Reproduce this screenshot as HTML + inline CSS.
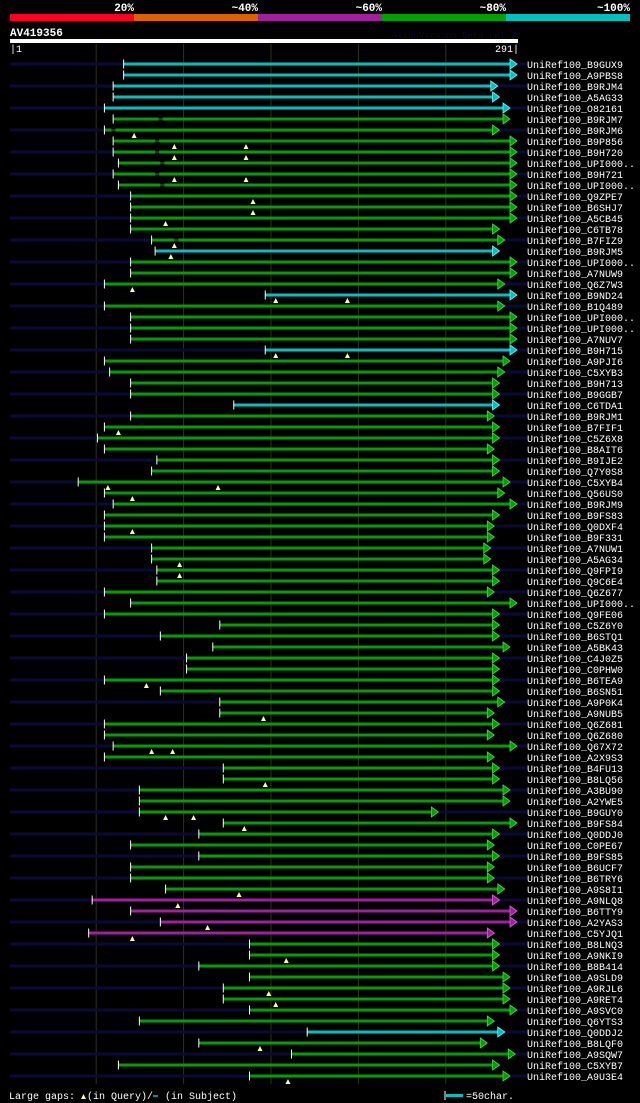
<!DOCTYPE html>
<html><head><meta charset="utf-8"><style>
body{margin:0;background:#000;width:640px;height:1103px;overflow:hidden}
svg{display:block}
text{font-family:"Liberation Mono","DejaVu Sans Mono",monospace}
</style></head><body>
<svg id="c" width="640" height="1103" xmlns="http://www.w3.org/2000/svg">
<g>
<rect x="10" y="14" width="124" height="7" fill="#ff0022"/>
<rect x="134" y="14" width="124" height="7" fill="#e06000"/>
<rect x="258" y="14" width="124" height="7" fill="#a020a0"/>
<rect x="382" y="14" width="124" height="7" fill="#00a000"/>
<rect x="506" y="14" width="124" height="7" fill="#00c0c0"/>
<g fill="#fff" font-size="11" font-weight="bold" text-anchor="end">
<text x="134" y="11">20%</text>
<text x="258" y="11">~40%</text>
<text x="382" y="11">~60%</text>
<text x="506" y="11">~80%</text>
<text x="630" y="11">~100%</text>
</g></g>
<text x="10" y="36" fill="#fff" font-size="11" font-weight="bold">AV419356</text>
<text x="516" y="38" fill="#0a0a30" font-size="9" text-anchor="end">AlignView.pm Beta rel.7</text>
<rect x="10" y="39" width="508" height="4" fill="#fff"/>
<text x="10" y="52" fill="#fff" font-size="10">|1</text>
<text x="519" y="52" fill="#fff" font-size="10" text-anchor="end">291|</text>
<g id="grid"></g>
<g id="rows"></g>
<g>
<text x="9" y="1099" fill="#fff" font-size="10">Large gaps:</text>
<polygon points="81,1099 83.5,1094 86,1099" fill="#ffff80"/>
<text x="87" y="1099" fill="#fff" font-size="10">(in Query)/</text>
<line x1="153" y1="1096" x2="158" y2="1096" stroke="#00c0c0" stroke-width="1.5"/>
<text x="165" y="1099" fill="#fff" font-size="10">(in Subject)</text>
<line x1="445" y1="1091" x2="445" y2="1100" stroke="#fff" stroke-width="1"/>
<rect x="446" y="1094" width="17" height="3" fill="#00c0c0"/>
<text x="466" y="1099" fill="#fff" font-size="10">=50char.</text>
</g>
</svg>
<script>
const names=["B9GUX9","A9PBS8","B9RJM4","A5AG33","O82161","B9RJM7","B9RJM6","B9P856","B9H720","UPI000..","B9H721","UPI000..","Q9ZPE7","B6SHJ7","A5CB45","C6TB78","B7FIZ9","B9RJM5","UPI000..","A7NUW9","Q6Z7W3","B9ND24","B1Q489","UPI000..","UPI000..","A7NUV7","B9H715","A9PJI6","C5XYB3","B9H713","B9GGB7","C6TDA1","B9RJM1","B7FIF1","C5Z6X8","B8AIT6","B9IJE2","Q7Y0S8","C5XYB4","Q56US0","B9RJM9","B9FS83","Q0DXF4","B9F331","A7NUW1","A5AG34","Q9FPI9","Q9C6E4","Q6Z677","UPI000..","Q9FE06","C5Z6Y0","B6STQ1","A5BK43","C4J0Z5","C0PHW0","B6TEA9","B6SN51","A9P0K4","A9NUB5","Q6Z681","Q6Z680","Q67X72","A2X9S3","B4FU13","B8LQ56","A3BU90","A2YWE5","B9GUY0","B9FS84","Q0DDJ0","C0PE67","B9FS85","B6UCF7","B6TRY6","A9S8I1","A9NLQ8","B6TTY9","A2YAS3","C5YJQ1","B8LNQ3","A9NKI9","B8B414","A9SLD9","A9RJL6","A9RET4","A9SVC0","Q6YTS3","Q0DDJ2","B8LQF0","A9SQW7","C5XYB7","A9U3E4"];
const starts=[66,66,60,60,55,60,55,60,60,63,60,63,70,70,70,70,82,84,70,70,55,147,55,70,70,70,147,55,58,70,70,129,70,55,51,55,85,82,40,55,60,55,55,55,82,82,85,85,55,70,55,121,87,117,102,102,55,87,121,121,55,55,60,55,123,123,75,75,75,123,109,70,109,70,70,90,48,70,87,46,138,138,109,138,123,123,138,75,171,109,162,63,138];
const ends=[291,291,280,281,287,287,281,291,291,291,291,291,291,291,291,281,284,281,291,291,284,291,284,291,291,291,291,287,284,281,281,281,278,281,281,278,281,281,287,284,291,281,278,278,276,276,281,281,278,291,281,281,281,287,281,281,281,281,284,278,281,278,291,278,281,281,287,287,246,291,281,278,281,278,278,284,281,291,291,278,281,281,281,287,287,287,291,278,284,274,290,281,287];
const colors="ccccc"+"gggggggggggg"+"c"+"ggg"+"c"+"gggg"+"c"+"gggg"+"c"+"gggggggggggggggggggggggggggggggggggggggggggg"+"mmmm"+"gggggggg"+"c"+"gggg";
const triRow=[7,8,8,9,9,11,11,13,14,15,17,18,21,22,22,27,27,34,39,39,40,43,46,47,57,60,63,63,66,69,69,70,76,77,79,80,82,85,86,90,93];
const triPos=[72,95,136,95,136,95,136,140,140,90,95,93,71,153,194,153,194,63,57,120,71,71,98,98,79,146,82,94,147,90,106,135,132,97,114,71,159,149,153,144,160];
const gapRow=[6,8,9,10,11,12,17,7];
const gapPos=[86,84,84,87,84,87,95,59];
const ticks=[50,100,150,200,250];
const X=r=>10+(r-1)*507/290;
const Y=i=>64+i*11;
const NS="http://www.w3.org/2000/svg";
function mk(tag,attrs,parent){const e=document.createElementNS(NS,tag);for(const k in attrs)e.setAttribute(k,attrs[k]);parent.appendChild(e);return e;}
const grid=document.getElementById('grid'),rows=document.getElementById('rows');
ticks.forEach(t=>{
 const l=mk('line',{x1:X(t)+0.5,x2:X(t)+0.5,y1:44,y2:1084,stroke:'#33330a','stroke-width':1},grid);
 
 
});
const col={c:'#00c0c0',g:'#00a000',m:'#a020a0'};
const edge={c:'#60ffff',g:'#40e040',m:'#e060e0'};
names.forEach((n,i)=>{
 const y=Y(i);
 const g=mk('g',{},rows);
 
 
 if(i%2===0){const b=mk('rect',{x:10,y:y-1.5,width:517,height:3,fill:'#0a0a38'},g);
  
  }
 const c=colors[i]||'g';
 const x1=X(starts[i]),x2=X(ends[i]);
 const bar=mk('rect',{x:x1,y:y-1.5,width:x2-x1-5,height:3,fill:col[c]},g);
 
 
 const tk=mk('line',{x1:x1,x2:x1,y1:y-4.5,y2:y+4.5,stroke:'#fff','stroke-width':1},g);
 
 
 const ar=mk('polygon',{points:`${x2-7},${y-5} ${x2},${y} ${x2-7},${y+5}`,fill:col[c],stroke:edge[c],'stroke-width':0.8},g);
 
 
 const t=mk('text',{x:527,y:y+4,fill:'#fff','font-size':10},g);
 t.textContent='UniRef100_'+n;
 
 
});
gapRow.forEach((r,k)=>{
 const y=Y(r-1),x=X(gapPos[k]);
 const gp=mk('rect',{x:x,y:y-1.5,width:4,height:3,fill:'#000'},rows);
 
 
 const gl=mk('rect',{x:x,y:y-0.5,width:4,height:1,fill:'#00a000'},rows);
 
 
});
triRow.forEach((r,k)=>{
 const y=Y(r-1),x=X(triPos[k]);
 const p=mk('polygon',{points:`${x-2.5},${y+8} ${x},${y+3} ${x+2.5},${y+8}`,fill:'#ffff80'},rows);
 
 
});
</script>
</body></html>
